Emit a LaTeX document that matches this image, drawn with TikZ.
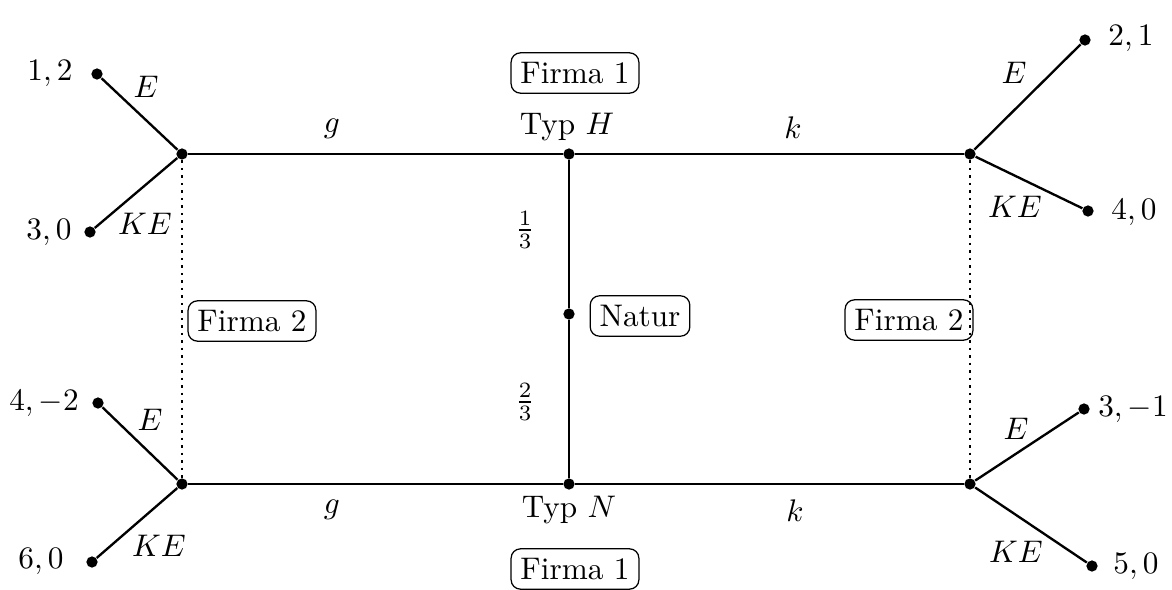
\documentclass[tikz,border=0pt]{standalone}
\usepackage{amsmath}
\usetikzlibrary{positioning}
\tikzset{
  knoten/.style={circle,fill,inner sep=0pt,minimum size=3.6pt},
  spieler/.style={draw,rounded corners=3pt,inner sep=3pt},
  zweig/.style={line width=0.75pt},
  infomenge/.style={line width=0.8pt,dash pattern=on 0.8pt off 1.6pt},
}
\begin{document}
\begin{tikzpicture}[x=0.32pt,y=-0.32pt]
  \useasboundingbox (0,0) rectangle (1172,590);
  % Natur und Typen
  \node[knoten] (natur) at (569,314) {};
  \node[knoten] (typh) at (569,154) {};
  \node[knoten] (typn) at (569,484) {};
  % Firma 2
  \node[knoten] (lo) at (182,154) {};
  \node[knoten] (lu) at (182,484) {};
  \node[knoten] (ro) at (970,154) {};
  \node[knoten] (ru) at (970,484) {};
  % Endknoten
  \node[knoten] (lo1) at (97,74) {};
  \node[knoten] (lo2) at (90,232) {};
  \node[knoten] (lu1) at (98,403) {};
  \node[knoten] (lu2) at (92,562) {};
  \node[knoten] (ro1) at (1085,40) {};
  \node[knoten] (ro2) at (1088,211) {};
  \node[knoten] (ru1) at (1084,409) {};
  \node[knoten] (ru2) at (1092,566) {};

  \draw[zweig] (natur) -- (typh);
  \draw[zweig] (natur) -- (typn);
  \draw[zweig] (lo) -- (typh) -- (ro);
  \draw[zweig] (lu) -- (typn) -- (ru);
  \draw[zweig] (lo1) -- (lo) -- (lo2);
  \draw[zweig] (lu1) -- (lu) -- (lu2);
  \draw[zweig] (ro1) -- (ro) -- (ro2);
  \draw[zweig] (ru1) -- (ru) -- (ru2);
  \draw[infomenge] (lo) -- (lu);
  \draw[infomenge] (ro) -- (ru);

  % Spieler
  \node[spieler] (f1o) at (575,73) {Firma 1};
  \node[spieler] (f1u) at (575,569) {Firma 1};
  \node[spieler] (f2l) at (252,321) {Firma 2};
  \node[spieler] (f2r) at (909,320) {Firma 2};
  \node[spieler] (nat) at (640,316) {Natur};
  \node (th) at (567,127) {Typ $H$};
  \node (tn) at (569,510) {Typ $N$};
  \node (p1) at (525,230) {$\frac{1}{3}$};
  \node (p2) at (525,402) {$\frac{2}{3}$};

  % Aktionen
  \node (go) at (332,129) {$g$};
  \node (ko) at (793,128) {$k$};
  \node (gu) at (332,510) {$g$};
  \node (ku) at (795,511) {$k$};
  \node (e1) at (146,87) {$E$};
  \node (ke1) at (145,224) {$KE$};
  \node (e2) at (150,420) {$E$};
  \node (ke2) at (159,546) {$KE$};
  \node (e3) at (1014,73) {$E$};
  \node (ke3) at (1015,207) {$KE$};
  \node (e4) at (1016,429) {$E$};
  \node (ke4) at (1016,552) {$KE$};

  % Auszahlungen
  \node (a1) at (50,73) {$1,2$};
  \node (a2) at (49,232) {$3,0$};
  \node (a3) at (44,403) {$4,-2$};
  \node (a4) at (41,561) {$6,0$};
  \node (a5) at (1131,38) {$2,1$};
  \node (a6) at (1134,212) {$4,0$};
  \node (a7) at (1133,409) {$3,-1$};
  \node (a8) at (1136,566) {$5,0$};
\end{tikzpicture}
\end{document}
